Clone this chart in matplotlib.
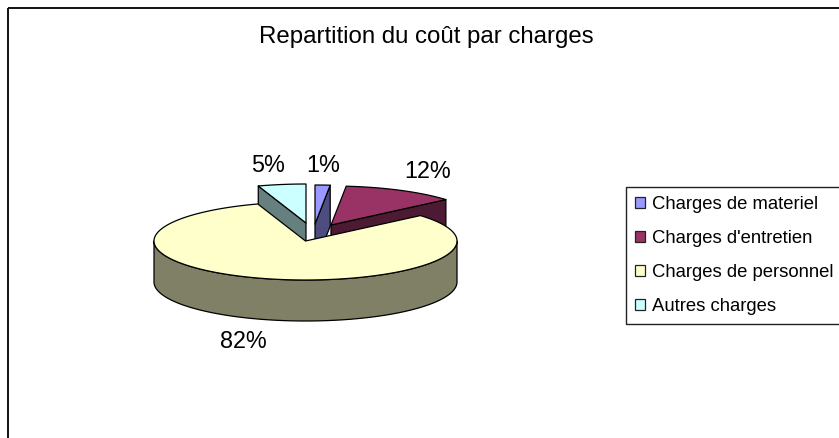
import numpy as np
import matplotlib
matplotlib.use("Agg")
import matplotlib.pyplot as plt
from matplotlib.patches import Patch, Polygon, Rectangle

plt.rcParams["font.family"] = ["Liberation Sans", "DejaVu Sans"]

# Data
title = "Repartition du coût par charges"
categories = ["Charges de materiel", "Charges d'entretien", "Charges de personnel", "Autres charges"]
shares = [1.6, 12.1, 81.2, 5.1]          # drawn sweep of each slice, % of the turn
value_labels = ["1%", "12%", "82%", "5%"]

# Styles and layout (pixel coordinates of the 839x438 picture)
top_colors = ["#9999FF", "#993366", "#FFFFCC", "#CCFFFF"]
side_colors = ["#4D4D80", "#4D1A33", "#808066", "#668080"]
CX, CY, RX, RY, DEPTH = 305.5, 241.0, 151.5, 39.0, 41.0
offsets = [(9.5, -17), (25.5, -16), (0, 0), (0.5, -18)]
label_xy = [(323, 166), (428, 171), (243, 341), (268, 166)]
LW = 0.9

fig = plt.figure(figsize=(8.39, 4.38), dpi=100)
ax = fig.add_axes([0, 0, 1, 1])
ax.set_xlim(0, 839)
ax.set_ylim(438, 0)
ax.axis("off")

ax.add_patch(Rectangle((7.5, 7.5), 900, 500, fill=False, ec="#111111", lw=1.4, zorder=1))


def arc(t0, t1, dx, dy, drop=0.0):
    t = np.radians(np.linspace(t0, t1, max(int(abs(t1 - t0)) * 2, 2)))
    return np.column_stack([CX + dx + RX * np.sin(t), CY + dy + drop - RY * np.cos(t)])


edges = np.concatenate([[0], np.cumsum(shares)]) * 3.6
apex = [(CX + ox, CY + oy) for ox, oy in offsets]
kw = dict(closed=True, ec="black", lw=LW, joinstyle="round")

# exploded back slices first, the large slice is painted over them
for i in (0, 1, 3):
    t0, t1 = edges[i], edges[i + 1]
    dx, dy = offsets[i]
    ax_, ay_ = apex[i]
    face_t = t0 if i == 3 else t1
    rim = arc(face_t, face_t, dx, dy)[0]
    ax.add_patch(Polygon([(ax_, ay_), rim, (rim[0], rim[1] + DEPTH), (ax_, ay_ + DEPTH)],
                         fc=side_colors[i], zorder=2, **kw))
    ax.add_patch(Polygon(np.vstack([[(ax_, ay_)], arc(t0, t1, dx, dy)]),
                         fc=top_colors[i], zorder=3, **kw))

# large slice: outer wall then top
t0, t1 = edges[2], edges[3]
front = arc(90, 270, 0, 0)
wall = np.vstack([front, arc(270, 90, 0, 0, DEPTH)])
ax.add_patch(Polygon(wall, fc=side_colors[2], zorder=4, **kw))
ax.add_patch(Polygon(np.vstack([[apex[2]], arc(t0, t1, 0, 0)]), fc=top_colors[2], zorder=5, **kw))

for s, (x, y) in zip(value_labels, label_xy):
    ax.text(x, y, s, ha="center", va="center", fontsize=16.8, color="black", zorder=6)

ax.text(426.5, 37, title, ha="center", va="center", fontsize=17.3, color="black", zorder=6)

handles = [Patch(fc=c, ec="#222222", lw=0.9) for c in top_colors]
leg = ax.legend(handles, categories, loc="upper left", bbox_to_anchor=(625.5, 187),
                bbox_transform=ax.transData, fontsize=13.3, frameon=True, fancybox=False,
                edgecolor="#222222", framealpha=1, borderaxespad=0, borderpad=0.5,
                labelspacing=0.91, handlelength=0.55, handleheight=0.55, handletextpad=0.36)
leg.get_frame().set_linewidth(1.0)
leg.set_zorder(6)

fig.savefig("out.png", dpi=100)
